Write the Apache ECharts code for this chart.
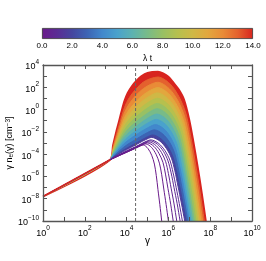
<!DOCTYPE html>
<html><head><meta charset="utf-8">
<script src="https://cdn.jsdelivr.net/npm/echarts@6/dist/echarts.min.js"></script>
<style>html,body{margin:0;padding:0;background:#fff}#c{width:266px;height:261px}</style>
</head><body><div id="c"></div>
<script>
// ---- data (log10 gamma, log10 gamma*n) ----
const lambdaT = [0, 0.2, 0.4, 0.6, 0.8, 1.0, 1.5, 2, 3, 4, 5, 6, 7, 8, 9, 10, 11, 12, 13, 14];
const lowEnergy = [[0,-7.8],[3.21,-4.5]];
const lt0_0 = [[3.21,-4.5],[4.3,-3.58],[4.56,-3.34],[4.8,-3.18],[5.02,-3.49],[5.2,-4.1],[5.33,-4.89],[5.42,-5.91],[5.5,-7.17],[5.59,-8.53],[5.68,-10.0],[5.75,-11.16]];
const lt0_2 = [[3.21,-4.5],[3.72,-4.06],[4.15,-3.70],[4.41,-3.48],[4.66,-3.25],[4.92,-3.08],[5.19,-3.39],[5.41,-4.01],[5.57,-4.81],[5.68,-5.85],[5.78,-7.13],[5.89,-8.51],[6.0,-10.0],[6.09,-11.18]];
const lt0_4 = [[3.21,-4.5],[3.75,-4.02],[4.2,-3.64],[4.46,-3.41],[4.73,-3.16],[5.0,-2.99],[5.31,-3.31],[5.55,-3.94],[5.74,-4.74],[5.86,-5.79],[5.98,-7.09],[6.11,-8.49],[6.23,-10.0],[6.33,-11.19]];
const lt0_6 = [[3.21,-4.5],[3.77,-3.98],[4.23,-3.58],[4.51,-3.34],[4.79,-3.08],[5.07,-2.9],[5.4,-3.22],[5.67,-3.86],[5.87,-4.68],[6.0,-5.74],[6.13,-7.05],[6.27,-8.47],[6.4,-10.0],[6.51,-11.21]];
const lt0_8 = [[3.21,-4.5],[3.78,-3.93],[4.26,-3.51],[4.55,-3.25],[4.83,-2.99],[5.12,-2.8],[5.48,-3.12],[5.77,-3.77],[5.98,-4.6],[6.13,-5.68],[6.27,-7.01],[6.42,-8.45],[6.56,-10.0],[6.68,-11.22]];
const lt1_0 = [[3.21,-4.5],[3.8,-3.9],[4.28,-3.46],[4.58,-3.19],[4.87,-2.91],[5.16,-2.72],[5.54,-3.05],[5.84,-3.7],[6.07,-4.54],[6.22,-5.63],[6.37,-6.98],[6.52,-8.44],[6.67,-10.0],[6.79,-11.24]];
const lt1_5 = [[3.21,-4.5],[3.47,-4.18],[3.81,-3.79],[4.31,-3.3],[4.6,-3.0],[4.9,-2.71],[5.2,-2.5],[5.6,-2.84],[5.91,-3.51],[6.15,-4.38],[6.31,-5.5],[6.46,-6.89],[6.62,-8.39],[6.78,-10.0],[6.91,-11.28]];
const lt2 = [[3.21,-4.5],[3.33,-4.32],[3.48,-4.13],[3.62,-3.94],[3.82,-3.67],[4.03,-3.44],[4.33,-3.13],[4.64,-2.81],[4.94,-2.5],[5.25,-2.28],[5.65,-2.63],[5.97,-3.32],[6.21,-4.21],[6.37,-5.37],[6.53,-6.8],[6.69,-8.34],[6.85,-10.0],[6.98,-11.31]];
const lt3 = [[3.21,-4.5],[3.34,-4.26],[3.49,-4.0],[3.63,-3.75],[3.85,-3.4],[4.06,-3.11],[4.38,-2.75],[4.69,-2.39],[5.01,-2.05],[5.33,-1.82],[5.73,-2.19],[6.05,-2.92],[6.29,-3.87],[6.45,-5.09],[6.61,-6.61],[6.77,-8.24],[6.93,-10.0],[7.06,-11.39]];
const lt4 = [[3.21,-4.5],[3.34,-4.18],[3.49,-3.85],[3.64,-3.53],[3.86,-3.09],[4.08,-2.75],[4.4,-2.33],[4.73,-1.94],[5.06,-1.59],[5.38,-1.35],[5.79,-1.74],[6.11,-2.52],[6.35,-3.51],[6.51,-4.81],[6.68,-6.41],[6.84,-8.14],[7.0,-10.0],[7.13,-11.47]];
const lt5 = [[3.21,-4.5],[3.34,-4.12],[3.5,-3.72],[3.65,-3.33],[3.87,-2.81],[4.09,-2.42],[4.43,-1.94],[4.76,-1.51],[5.09,-1.13],[5.42,-0.88],[5.84,-1.29],[6.17,-2.11],[6.42,-3.16],[6.58,-4.53],[6.75,-6.22],[6.91,-8.04],[7.08,-10.0],[7.21,-11.55]];
const lt6 = [[3.21,-4.5],[3.34,-4.04],[3.5,-3.58],[3.66,-3.13],[3.88,-2.51],[4.11,-2.06],[4.44,-1.54],[4.78,-1.06],[5.11,-0.66],[5.45,-0.4],[5.88,-0.83],[6.22,-1.7],[6.48,-2.8],[6.65,-4.24],[6.82,-6.02],[6.99,-7.94],[7.16,-10.0],[7.3,-11.63]];
const lt7 = [[3.21,-4.5],[3.35,-3.96],[3.5,-3.42],[3.66,-2.9],[3.89,-2.2],[4.11,-1.68],[4.45,-1.11],[4.79,-0.61],[5.12,-0.19],[5.46,0.08],[5.91,-0.37],[6.26,-1.28],[6.53,-2.44],[6.71,-3.95],[6.88,-5.82],[7.06,-7.83],[7.24,-10.0],[7.38,-11.71]];
const lt8 = [[3.21,-4.5],[3.35,-3.88],[3.5,-3.27],[3.66,-2.67],[3.89,-1.87],[4.11,-1.3],[4.45,-0.67],[4.79,-0.14],[5.13,0.29],[5.47,0.55],[5.93,0.08],[6.3,-0.87],[6.58,-2.09],[6.77,-3.67],[6.95,-5.62],[7.14,-7.73],[7.32,-10.0],[7.47,-11.79]];
const lt9 = [[3.21,-4.5],[3.35,-3.8],[3.51,-3.1],[3.66,-2.42],[3.89,-1.52],[4.12,-0.89],[4.46,-0.22],[4.8,0.34],[5.14,0.76],[5.48,1.02],[5.96,0.52],[6.34,-0.47],[6.63,-1.74],[6.82,-3.39],[7.02,-5.43],[7.21,-7.63],[7.4,-10.0],[7.55,-11.87]];
const lt10 = [[3.21,-4.5],[3.35,-3.71],[3.51,-2.92],[3.66,-2.17],[3.89,-1.15],[4.12,-0.46],[4.46,0.25],[4.8,0.83],[5.14,1.25],[5.48,1.5],[5.98,0.98],[6.38,-0.05],[6.68,-1.38],[6.88,-3.1],[7.08,-5.23],[7.28,-7.53],[7.48,-10.0],[7.64,-11.96]];
const lt11 = [[3.21,-4.5],[3.35,-3.61],[3.51,-2.73],[3.67,-1.89],[3.89,-0.77],[4.12,-0.02],[4.46,0.74],[4.81,1.33],[5.15,1.74],[5.49,1.97],[6.01,1.43],[6.42,0.35],[6.73,-1.02],[6.94,-2.82],[7.15,-5.03],[7.35,-7.43],[7.56,-10.0],[7.73,-12.03]];
const lt12 = [[3.21,-4.5],[3.35,-3.5],[3.51,-2.51],[3.67,-1.57],[3.89,-0.31],[4.12,0.5],[4.46,1.3],[4.81,1.89],[5.15,2.26],[5.49,2.45],[6.03,1.89],[6.46,0.77],[6.78,-0.66],[7.0,-2.53],[7.21,-4.83],[7.43,-7.32],[7.64,-10.0],[7.81,-12.12]];
const lt13 = [[3.21,-4.5],[3.35,-3.37],[3.51,-2.27],[3.67,-1.21],[3.9,0.19],[4.13,1.07],[4.47,1.89],[4.81,2.48],[5.16,2.79],[5.5,2.92],[6.06,2.34],[6.5,1.18],[6.83,-0.31],[7.05,-2.25],[7.28,-4.64],[7.5,-7.22],[7.72,-10.0],[7.9,-12.2]];
const lt14 = [[3.21,-4.5],[3.35,-3.2],[3.5,-2.0],[3.6,-1.3],[3.75,-0.2],[3.9,0.8],[4.05,1.5],[4.25,2.1],[4.45,2.55],[4.7,3.0],[5.0,3.3],[5.5,3.4],[5.75,3.25],[6.0,2.95],[6.25,2.4],[6.5,1.8],[6.75,0.9],[7.0,-0.9],[7.2,-2.9],[7.4,-5.1],[7.6,-7.5],[7.8,-10.1],[7.9,-11.5]];
const curves = [lt0_0, lt0_2, lt0_4, lt0_6, lt0_8, lt1_0, lt1_5, lt2, lt3, lt4, lt5, lt6, lt7, lt8, lt9, lt10, lt11, lt12, lt13, lt14];
const markerGammaLog = 4.43;

// ---- style ----
const FONT = 'Liberation Sans, Arial, sans-serif';
const cmapStops = [[0,'#6a1a8a'],[1,'#5a2c94'],[2,'#45469f'],[3,'#3d64b4'],[4,'#4288cc'],[5,'#4aa2cc'],[6,'#5db2b0'],[7,'#78bb88'],[8,'#98c064'],[9,'#b6c04e'],[10,'#cfb846'],[11,'#e2a73e'],[12,'#e98b37'],[13,'#e4612e'],[14,'#d8241f']];
function hex2rgb(h){return [parseInt(h.substr(1,2),16),parseInt(h.substr(3,2),16),parseInt(h.substr(5,2),16)];}
function cmap(t){
  for (let i=0;i<cmapStops.length-1;i++){
    const a=cmapStops[i], b=cmapStops[i+1];
    if (t<=b[0]){const f=(t-a[0])/(b[0]-a[0]);const ca=hex2rgb(a[1]),cb=hex2rgb(b[1]);
      return 'rgb('+ca.map((v,k)=>Math.round(v+(cb[k]-v)*f)).join(',')+')';}
  }
  return cmapStops[cmapStops.length-1][1];
}
const toXY = arr => arr.map(p => [Math.pow(10,p[0]), Math.pow(10,p[1])]);

const series = [];
const baseIdx = lambdaT.indexOf(1.5);
for (let i = curves.length-1; i >= baseIdx; i--) {
  const t = lambdaT[i];
  // shared low-energy segment + the curve (kink point repeated -> sharp corner)
  series.push({type:'line', xAxisIndex:0, yAxisIndex:0, data: toXY(lowEnergy.concat(curves[i])), smooth:0.3, symbol:'none', silent:true,
    lineStyle:{color: cmap(t), width: t===14 ? 1.8 : 1},
    areaStyle:{color: i===baseIdx ? '#ffffff' : cmap(t), opacity:1, origin:'start'}});
}
for (let i = baseIdx-1; i >= 0; i--) {
  const t = lambdaT[i];
  series.push({type:'line', xAxisIndex:0, yAxisIndex:0, data: toXY([curves[i][0]].concat(curves[i])), smooth:0.3, symbol:'none', silent:true,
    lineStyle:{color: cmap(t), width: 1}});
}
series.push({type:'line', xAxisIndex:0, yAxisIndex:0, data: toXY(lowEnergy), symbol:'none', silent:true,
  lineStyle:{color: cmap(14), width: 1.6}});
series.push({type:'line', xAxisIndex:0, yAxisIndex:0, data: [[Math.pow(10,markerGammaLog),1e-10],[Math.pow(10,markerGammaLog),1e4]], symbol:'none', silent:true,
  lineStyle:{color:'#666', width:1, type:[3,2]}, z:5});
// colorbar
series.push({type:'bar', xAxisIndex:2, yAxisIndex:2, data:[14], barWidth:'100%', silent:true,
  itemStyle:{borderColor:'#333', borderWidth:0.8,
    color: new echarts.graphic.LinearGradient(0,0,1,0, cmapStops.map(s=>({offset:s[0]/14, color:s[1]})))}});

function expLabel(v){
  const e = Math.round(Math.log10(v));
  if (e % 2 !== 0) return '';
  return '{b|10}{s|' + (e<0 ? '\u2212'+(-e) : e) + '}';
}
const labRich = {b:{fontSize:9, fontFamily:FONT, color:'#000', lineHeight:13, verticalAlign:'bottom'},
                 s:{fontSize:6.5, fontFamily:FONT, color:'#000', lineHeight:8, verticalAlign:'top'}};
const axLine = {lineStyle:{color:'#555', width:1.3}};
const axTick = {inside:true, length:4, lineStyle:{color:'#555', width:1}};

const option = {
  animation:false,
  backgroundColor:'#fff',
  grid:[{left:43, right:14, top:65, bottom:40, outerBoundsMode:'none', containLabel:false},
        {left:42, right:13, top:28, height:11, outerBoundsMode:'none', containLabel:false}],
  xAxis:[
    {type:'log', gridIndex:0, min:1, max:1e10, interval:1, position:'bottom', z:10,
     axisLine:axLine, axisTick:axTick, splitLine:{show:false}, minorTick:{show:false},
     axisLabel:{formatter:expLabel, rich:labRich, margin:4},
     name:'\u03b3', nameLocation:'middle', nameGap:15, nameMoveOverlap:false,
     nameTextStyle:{fontSize:10, fontFamily:FONT, color:'#000', verticalAlign:'top'}},
    {type:'log', gridIndex:0, min:1, max:1e10, interval:1, position:'top', z:10,
     axisLine:axLine, axisTick:axTick, splitLine:{show:false}, axisLabel:{show:false}},
    {type:'value', gridIndex:1, min:0, max:14, interval:1, position:'bottom', z:10,
     axisLine:{show:false}, axisTick:{inside:true, length:3, lineStyle:{color:'#333'}}, splitLine:{show:false},
     axisLabel:{margin:3, fontSize:8, fontFamily:FONT, color:'#000', formatter:v => (v%2===0 ? v.toFixed(1) : '')},
     name:'\u03bb t', nameLocation:'middle', nameGap:15, nameMoveOverlap:false, nameTextStyle:{fontSize:8.5, fontFamily:FONT, color:'#000'}}
  ],
  yAxis:[
    {type:'log', gridIndex:0, min:1e-10, max:1e4, interval:1, position:'left', z:10,
     axisLine:axLine, axisTick:axTick, splitLine:{show:false},
     axisLabel:{formatter:expLabel, rich:labRich, margin:4},
     name:'\u03b3 n{sub|e}(\u03b3) [cm{sup|\u22123}]', nameLocation:'middle', nameGap:28, nameMoveOverlap:false,
     nameTextStyle:{fontSize:9, fontFamily:FONT, color:'#000',
       rich:{sub:{fontSize:6.5, fontFamily:FONT, verticalAlign:'bottom', lineHeight:10},
             sup:{fontSize:6.5, fontFamily:FONT, verticalAlign:'top', lineHeight:6}}}},
    {type:'log', gridIndex:0, min:1e-10, max:1e4, interval:1, position:'right', z:10,
     axisLine:axLine, axisTick:axTick, splitLine:{show:false}, axisLabel:{show:false}},
    {type:'category', gridIndex:1, data:['cb'], show:false}
  ],
  series: series
};
echarts.init(document.getElementById('c'), null, {renderer:'canvas'}).setOption(option);
</script></body></html>
